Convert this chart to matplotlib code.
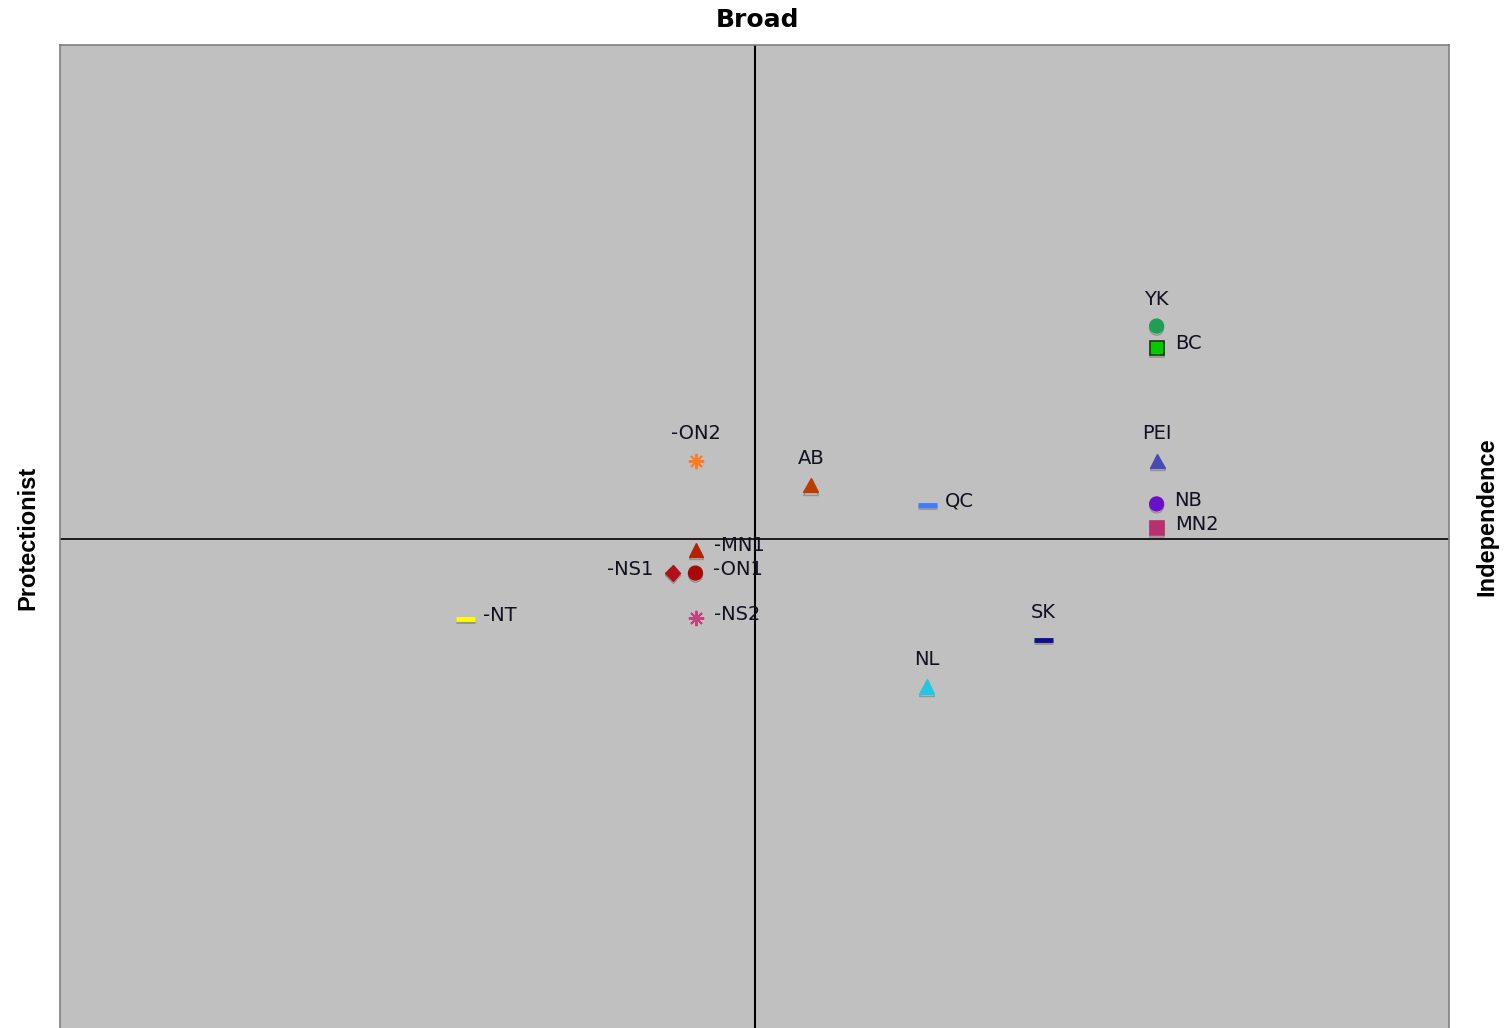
import matplotlib.pyplot as plt
import matplotlib.patheffects as pe

# ---------------- Data ----------------
names = ["YK", "BC", "PEI", "NB", "MN2", "QC", "AB", "-ON2",
         "-MN1", "-ON1", "-NS1", "-NS2", "-NT", "SK", "NL"]
x_vals = [0.579, 0.580, 0.580, 0.579, 0.580, 0.249, 0.081, -0.084,
          -0.084, -0.085, -0.118, -0.084, -0.416, 0.416, 0.248]
y_vals = [0.431, 0.387, 0.158, 0.071, 0.022, 0.069, 0.109, 0.158,
          -0.022, -0.069, -0.069, -0.160, -0.162, -0.204, -0.298]

# marker, color, label placement
styles = {
    "YK":   ("o", "#1f9e55", "above"),
    "BC":   ("s", "#00cc00", "right"),
    "PEI":  ("^", "#4a4ab4", "above"),
    "NB":   ("o", "#6a10c8", "right"),
    "MN2":  ("s", "#b8306e", "right"),
    "QC":   ("_", "#3f7cff", "right"),
    "AB":   ("^", "#bb3c05", "above"),
    "-ON2": ("*", "#ff7a20", "above"),
    "-MN1": ("^", "#b42205", "right"),
    "-ON1": ("o", "#a80808", "right"),
    "-NS1": ("D", "#b0101a", "left"),
    "-NS2": ("*", "#c4407e", "right"),
    "-NT":  ("_", "#ffff00", "right"),
    "SK":   ("_", "#10108c", "above"),
    "NL":   ("^", "#22c8e0", "above"),
}

W, H = 1511, 1028
fig = plt.figure(figsize=(W / 100, H / 100), dpi=100)
ax = fig.add_axes([60 / W, 1 - 1033 / H, 1389 / W, 988 / H])
ax.set_facecolor("#c0c0c0")
ax.set_xlim(-1, 1)
ax.set_ylim(-1, 1)
ax.set_xticks([])
ax.set_yticks([])
for s in ax.spines.values():
    s.set_color("#808080")
    s.set_linewidth(1.2)

ax.axhline(0, color="black", lw=1.2, zorder=1)
ax.axvline(0, color="black", lw=1.5, zorder=1)

shadow = [pe.SimpleLineShadow(offset=(0, -1.5), shadow_color="#909090", alpha=0.9),
          pe.Normal()]

label_font = dict(family=["DejaVu Sans"], fontsize=14, color="#101020")

for name, x, y in zip(names, x_vals, y_vals):
    m, c, pos = styles[name]
    if m == "_":
        ax.plot(x, y, marker="_", ms=14, mew=3.5, color=c, ls="none",
                zorder=3, path_effects=shadow)
    elif m == "*":
        ax.plot(x, y, marker=(8, 2, 0), ms=11, mew=1.4, color=c, ls="none",
                zorder=3)
    elif m == "s":
        ec = "#1a3a10" if name == "BC" else c
        ax.plot(x, y, marker="s", ms=10, mfc=c, mec=ec, mew=1.2, ls="none",
                zorder=3, path_effects=shadow)
    elif m == "D":
        ax.plot(x, y, marker="D", ms=8, color=c, ls="none", zorder=3,
                path_effects=shadow)
    else:
        ax.plot(x, y, marker=m, ms=10.5 if m == "^" else 10, color=c, ls="none",
                zorder=3, path_effects=shadow)

    if pos == "above":
        ax.annotate(name, (x, y), xytext=(0, 19.5), textcoords="offset points",
                    ha="center", va="center", **label_font)
    elif pos == "right":
        ax.annotate(name, (x, y), xytext=(12.5, 2.8), textcoords="offset points",
                    ha="left", va="center", **label_font)
    else:
        ax.annotate(name, (x, y), xytext=(-13.5, 2.8), textcoords="offset points",
                    ha="right", va="center", **label_font)

narrow = ["Liberation Sans Narrow", "Liberation Sans", "DejaVu Sans"]
fig.text(757 / W, 1 - 20 / H, "Broad", ha="center", va="center",
         fontsize=18, fontweight="bold", family=["DejaVu Sans"])
fig.text(28 / W, 1 - 538 / H, "Protectionist", ha="center", va="center",
         rotation=90, fontsize=17, fontweight="bold", family=narrow)
fig.text(1487 / W, 1 - 517 / H, "Independence", ha="center", va="center",
         rotation=90, fontsize=17, fontweight="bold", family=narrow)

fig.savefig("out.png", dpi=100)
